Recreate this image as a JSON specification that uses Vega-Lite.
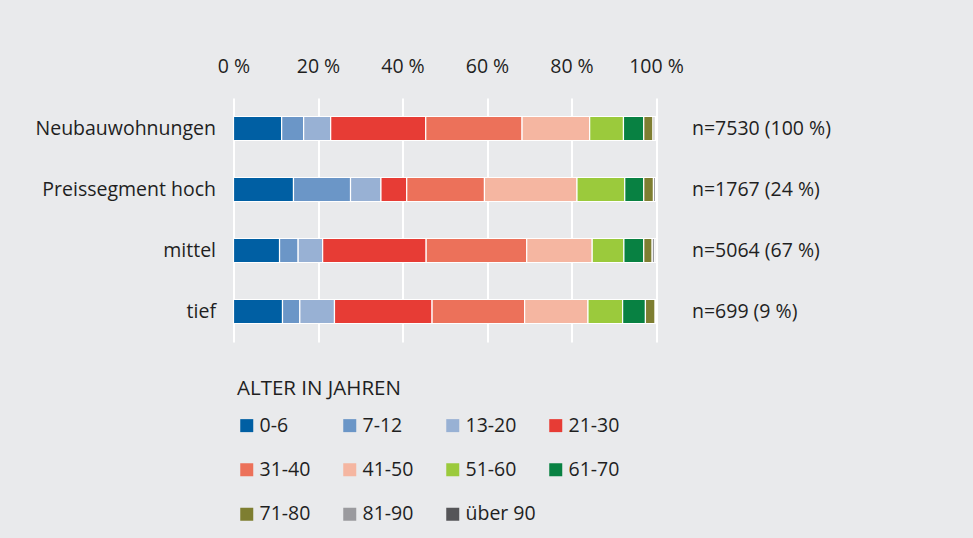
{
  "$schema": "https://vega.github.io/schema/vega-lite/v6.json",
  "autosize": {"type": "none"},
  "width": 422.5,
  "height": 244,
  "padding": {"left": 233.5, "top": 98, "right": 317, "bottom": 196},
  "background": "#e9eaec",
  "config": {
    "view": {"stroke": null},
    "font": "Open Sans",
    "axis": {"labelFont": "Open Sans", "labelColor": "#1f1f1f", "labelFontSize": 19.5},
    "legend": {"labelFont": "Open Sans", "titleFont": "Open Sans"}
  },
  "datasets": {
    "segments": [
      {"kategorie": "Neubauwohnungen", "alter": "0-6", "k": 1, "anteil": 11.4},
      {"kategorie": "Neubauwohnungen", "alter": "7-12", "k": 2, "anteil": 5.2},
      {"kategorie": "Neubauwohnungen", "alter": "13-20", "k": 3, "anteil": 6.4},
      {"kategorie": "Neubauwohnungen", "alter": "21-30", "k": 4, "anteil": 22.5},
      {"kategorie": "Neubauwohnungen", "alter": "31-40", "k": 5, "anteil": 22.8},
      {"kategorie": "Neubauwohnungen", "alter": "41-50", "k": 6, "anteil": 16.0},
      {"kategorie": "Neubauwohnungen", "alter": "51-60", "k": 7, "anteil": 8.0},
      {"kategorie": "Neubauwohnungen", "alter": "61-70", "k": 8, "anteil": 4.8},
      {"kategorie": "Neubauwohnungen", "alter": "71-80", "k": 9, "anteil": 2.2},
      {"kategorie": "Neubauwohnungen", "alter": "81-90", "k": 10, "anteil": 0.5},
      {"kategorie": "Neubauwohnungen", "alter": "über 90", "k": 11, "anteil": 0.2},
      {"kategorie": "Preissegment hoch", "alter": "0-6", "k": 1, "anteil": 14.2},
      {"kategorie": "Preissegment hoch", "alter": "7-12", "k": 2, "anteil": 13.5},
      {"kategorie": "Preissegment hoch", "alter": "13-20", "k": 3, "anteil": 7.2},
      {"kategorie": "Preissegment hoch", "alter": "21-30", "k": 4, "anteil": 6.1},
      {"kategorie": "Preissegment hoch", "alter": "31-40", "k": 5, "anteil": 18.4},
      {"kategorie": "Preissegment hoch", "alter": "41-50", "k": 6, "anteil": 21.9},
      {"kategorie": "Preissegment hoch", "alter": "51-60", "k": 7, "anteil": 11.3},
      {"kategorie": "Preissegment hoch", "alter": "61-70", "k": 8, "anteil": 4.5},
      {"kategorie": "Preissegment hoch", "alter": "71-80", "k": 9, "anteil": 2.3},
      {"kategorie": "Preissegment hoch", "alter": "81-90", "k": 10, "anteil": 0.5},
      {"kategorie": "Preissegment hoch", "alter": "über 90", "k": 11, "anteil": 0.1},
      {"kategorie": "mittel", "alter": "0-6", "k": 1, "anteil": 10.9},
      {"kategorie": "mittel", "alter": "7-12", "k": 2, "anteil": 4.4},
      {"kategorie": "mittel", "alter": "13-20", "k": 3, "anteil": 5.8},
      {"kategorie": "mittel", "alter": "21-30", "k": 4, "anteil": 24.5},
      {"kategorie": "mittel", "alter": "31-40", "k": 5, "anteil": 23.8},
      {"kategorie": "mittel", "alter": "41-50", "k": 6, "anteil": 15.5},
      {"kategorie": "mittel", "alter": "51-60", "k": 7, "anteil": 7.5},
      {"kategorie": "mittel", "alter": "61-70", "k": 8, "anteil": 4.7},
      {"kategorie": "mittel", "alter": "71-80", "k": 9, "anteil": 2.0},
      {"kategorie": "mittel", "alter": "81-90", "k": 10, "anteil": 0.6},
      {"kategorie": "mittel", "alter": "über 90", "k": 11, "anteil": 0.3},
      {"kategorie": "tief", "alter": "0-6", "k": 1, "anteil": 11.6},
      {"kategorie": "tief", "alter": "7-12", "k": 2, "anteil": 4.1},
      {"kategorie": "tief", "alter": "13-20", "k": 3, "anteil": 8.2},
      {"kategorie": "tief", "alter": "21-30", "k": 4, "anteil": 23.1},
      {"kategorie": "tief", "alter": "31-40", "k": 5, "anteil": 21.9},
      {"kategorie": "tief", "alter": "41-50", "k": 6, "anteil": 15.0},
      {"kategorie": "tief", "alter": "51-60", "k": 7, "anteil": 8.2},
      {"kategorie": "tief", "alter": "61-70", "k": 8, "anteil": 5.4},
      {"kategorie": "tief", "alter": "71-80", "k": 9, "anteil": 2.3},
      {"kategorie": "tief", "alter": "81-90", "k": 10, "anteil": 0.2},
      {"kategorie": "tief", "alter": "über 90", "k": 11, "anteil": 0.0}
    ],
    "totals": [
      {"kategorie": "Neubauwohnungen", "text": "n=7530 (100 %)"},
      {"kategorie": "Preissegment hoch", "text": "n=1767 (24 %)"},
      {"kategorie": "mittel", "text": "n=5064 (67 %)"},
      {"kategorie": "tief", "text": "n=699 (9 %)"}
    ]
  },
  "layer": [
    {
      "data": {"name": "segments"},
      "mark": {"type": "bar", "stroke": "white", "strokeWidth": 1.2},
      "encoding": {
        "y": {
          "field": "kategorie", "type": "nominal",
          "sort": ["Neubauwohnungen", "Preissegment hoch", "mittel", "tief"],
          "scale": {"paddingInner": 0.607, "paddingOuter": 0.3035},
          "axis": {"title": null, "domain": false, "ticks": false, "labelPadding": 18, "labelLimit": 260}
        },
        "x": {
          "field": "anteil", "type": "quantitative", "stack": "zero",
          "scale": {"domain": [0, 100], "nice": false},
          "axis": {
            "orient": "top", "title": null, "values": [0, 20, 40, 60, 80, 100],
            "labelExpr": "datum.value + ' %'", "labelFlush": false, "labelOverlap": false,
            "domain": false, "ticks": false, "grid": true,
            "gridColor": "white", "gridWidth": 2, "gridOpacity": 1,
            "labelPadding": 22
          }
        },
        "order": {"field": "k", "type": "quantitative"},
        "color": {
          "field": "alter", "type": "nominal",
          "scale": {
            "domain": ["0-6", "7-12", "13-20", "21-30", "31-40", "41-50", "51-60", "61-70", "71-80", "81-90", "über 90"],
            "range": ["#005fa3", "#6b96c7", "#98b1d4", "#e73c35", "#ec715a", "#f5b6a1", "#9bca3c", "#088142", "#7e7e31", "#9a9a9e", "#555558"]
          },
          "legend": {
            "title": "ALTER IN JAHREN",
            "orient": "none", "legendX": 3.5, "legendY": 281,
            "direction": "horizontal", "columns": 4, "gridAlign": "all",
            "columnPadding": 10, "rowPadding": 23.5,
            "symbolType": "square", "symbolSize": 169, "symbolStrokeWidth": 0,
            "labelOffset": 3, "labelFontSize": 19.5, "labelColor": "#1f1f1f",
            "titleFontSize": 20.5, "titleFontWeight": "normal", "titleColor": "#1f1f1f",
            "titlePadding": 16
          }
        }
      }
    },
    {
      "data": {"name": "totals"},
      "mark": {"type": "text", "align": "left", "baseline": "middle", "dx": 36, "fontSize": 19.5, "font": "Open Sans", "color": "#1f1f1f"},
      "encoding": {
        "y": {"field": "kategorie", "type": "nominal", "sort": ["Neubauwohnungen", "Preissegment hoch", "mittel", "tief"]},
        "x": {"datum": 100},
        "text": {"field": "text"}
      }
    }
  ]
}
